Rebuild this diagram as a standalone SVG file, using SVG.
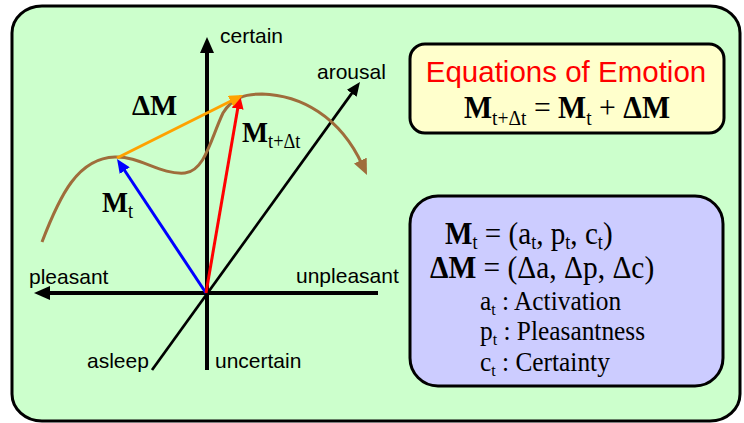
<svg xmlns="http://www.w3.org/2000/svg" width="744" height="423" viewBox="0 0 744 423">
<style>
.sans{font-family:"Liberation Sans",Arial,sans-serif;font-size:21px;fill:#000}
.ser{font-family:"Liberation Serif","Times New Roman",serif;fill:#000}
.b{font-weight:bold}
.sub{font-weight:normal}
.ax{stroke:#000;stroke-width:4;fill:none}
.vec{stroke-width:3;fill:none}
.box{stroke:#000;stroke-width:3}
</style>
<defs>
<marker id="axHead" viewBox="0 0 16 14" refX="6" refY="7" markerWidth="16" markerHeight="14" markerUnits="userSpaceOnUse" orient="auto"><path d="M0,0 L16,7 L0,14 z" fill="#000"/></marker>
<marker id="diagHead" viewBox="0 0 14 12" refX="4" refY="6" markerWidth="14" markerHeight="12" markerUnits="userSpaceOnUse" orient="auto"><path d="M0,0 L14,6 L0,12 z" fill="#000"/></marker>
<marker id="blueHead" viewBox="0 0 14 12" refX="5" refY="6" markerWidth="14" markerHeight="12" markerUnits="userSpaceOnUse" orient="auto"><path d="M0,0 L14,6 L0,12 z" fill="#0000ff"/></marker>
<marker id="redHead" viewBox="0 0 14 12" refX="5" refY="6" markerWidth="14" markerHeight="12" markerUnits="userSpaceOnUse" orient="auto"><path d="M0,0 L14,6 L0,12 z" fill="#ff0000"/></marker>
<marker id="orangeHead" viewBox="0 0 14 12" refX="5" refY="6" markerWidth="14" markerHeight="12" markerUnits="userSpaceOnUse" orient="auto"><path d="M0,0 L14,6 L0,12 z" fill="#ffa200"/></marker>
<marker id="brownHead" viewBox="0 0 16 14" refX="5" refY="7" markerWidth="16" markerHeight="14" markerUnits="userSpaceOnUse" orient="auto"><path d="M0,0 L16,7 L0,14 z" fill="#9f6d3b"/></marker>
</defs>

<g id="panel">
<rect x="12" y="6" width="728" height="415" rx="30" ry="27" fill="#ccffcc" class="box"/>
</g>

<g id="connectors">
<g id="axes">
<line class="ax" x1="207" y1="370" x2="207" y2="47" marker-end="url(#axHead)"/>
<line class="ax" x1="378" y1="293" x2="44" y2="293" marker-end="url(#axHead)"/>
<line x1="152" y1="370" x2="354.1" y2="90.1" stroke="#000" stroke-width="2.7" marker-end="url(#diagHead)"/>
</g>
<path id="trajectory" d="M42,242 C60,195 78,158 115,157 C140,156 160,175 185,173 C205,171 211,138 223,113 C233,97 245,94 262,94 C300,95 340,116 362.4,165.1" fill="none" stroke="#9f6d3b" stroke-width="3" marker-end="url(#brownHead)"/>
<line id="vec-mt" class="vec" x1="206" y1="293" x2="122" y2="166.5" stroke="#0000ff" marker-end="url(#blueHead)"/>
<line id="vec-mtdt" class="vec" x1="206" y1="293" x2="238.5" y2="103.9" stroke="#ff0000" marker-end="url(#redHead)"/>
<line id="vec-dm" class="vec" x1="117" y1="158" x2="235" y2="99" stroke="#ffa200" marker-end="url(#orangeHead)"/>
</g>

<g id="axis-labels">
<text class="sans" x="220" y="43">certain</text>
<text class="sans" x="317" y="79">arousal</text>
<text class="sans" x="29" y="284">pleasant</text>
<text class="sans" x="296" y="283">unpleasant</text>
<text class="sans" x="87" y="368">asleep</text>
<text class="sans" x="215" y="368">uncertain</text>
</g>

<g id="vector-labels">
<text class="ser b" font-size="30" transform="translate(132,115) scale(0.96,1)">ΔM</text>
<text class="ser b" font-size="30" transform="translate(242,142) scale(0.92,1)">M<tspan class="sub" font-size="20" dy="6">t+Δt</tspan></text>
<text class="ser b" font-size="30" transform="translate(102,212) scale(0.92,1)">M<tspan class="sub" font-size="20" dy="6">t</tspan></text>
</g>

<g id="equation-box">
<rect x="410" y="44" width="314" height="89" rx="15" fill="#ffffcc" class="box"/>
<text font-family="Liberation Sans, Arial, sans-serif" font-size="29.5" fill="#ff0000" text-anchor="middle" x="566" y="82">Equations of Emotion</text>
<text class="ser" font-size="32" text-anchor="middle" transform="translate(567,118) scale(0.93,1)"><tspan class="b">M</tspan><tspan class="sub" font-size="21" dy="7">t+Δt</tspan><tspan dy="-7"> = </tspan><tspan class="b">M</tspan><tspan class="sub" font-size="21" dy="7">t</tspan><tspan dy="-7"> + </tspan><tspan class="b">ΔM</tspan></text>
</g>

<g id="definition-box">
<rect x="410" y="196" width="313" height="190" rx="28" fill="#ccccff" class="box"/>
<text class="ser" font-size="32" transform="translate(445,244) scale(0.91,1)"><tspan class="b">M</tspan><tspan class="sub" font-size="20" dy="5">t</tspan><tspan dy="-5"> = (a</tspan><tspan class="sub" font-size="20" dy="5">t</tspan><tspan dy="-5">, p</tspan><tspan class="sub" font-size="20" dy="5">t</tspan><tspan dy="-5">, c</tspan><tspan class="sub" font-size="20" dy="5">t</tspan><tspan dy="-5">)</tspan></text>
<text class="ser" font-size="32" transform="translate(430,278) scale(0.92,1)"><tspan class="b">ΔM</tspan> = (Δa, Δp, Δc)</text>
<text class="ser" font-size="27" transform="translate(480,310) scale(0.94,1)">a<tspan class="sub" font-size="17" dy="5">t</tspan><tspan dy="-5"> : Activation</tspan></text>
<text class="ser" font-size="27" transform="translate(480,340) scale(0.94,1)">p<tspan class="sub" font-size="17" dy="5">t</tspan><tspan dy="-5"> : Pleasantness</tspan></text>
<text class="ser" font-size="27" transform="translate(480,371) scale(0.94,1)">c<tspan class="sub" font-size="17" dy="5">t</tspan><tspan dy="-5"> : Certainty</tspan></text>
</g>
</svg>
